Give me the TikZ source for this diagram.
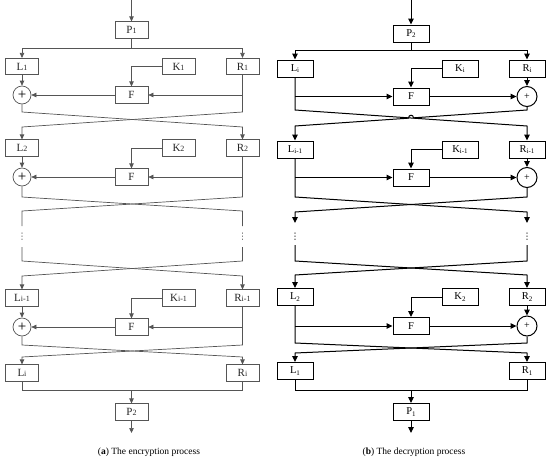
\documentclass[tikz,border=0pt]{standalone}
\usepackage{fontspec}
\setmainfont{Liberation Serif}
\newfontfamily\dvfont{DejaVu Sans}
\usetikzlibrary{arrows.meta}
\definecolor{lgray}{HTML}{555555}
\newcommand\ls[1]{{\fontsize{8}{8}\selectfont #1}}
\newcommand\rs[1]{\raisebox{-0.35ex}{\fontsize{7}{7}\selectfont #1}}
\tikzset{
  lbox/.style={draw=lgray, line width=0.7pt, minimum width=33pt, minimum height=16.5pt, inner sep=0pt, font=\fontsize{11}{11}\selectfont, text=black!85},
  rbox/.style={draw=black, line width=1pt, minimum width=36pt, minimum height=17pt, inner sep=0pt, font=\fontsize{10.5}{10.5}\selectfont},
  lxor/.style={circle, draw=lgray, line width=0.7pt, minimum size=18pt, inner sep=0pt, font=\fontsize{15}{15}\selectfont},
  rxor/.style={circle, draw=black, line width=1pt, minimum size=20pt, inner sep=0pt, font=\fontsize{10}{10}\selectfont},
  lline/.style={draw=lgray, line width=0.7pt},
  larr/.style={lline, -{Triangle[length=5pt,width=4.5pt]}},
  rline/.style={draw=black, line width=1pt},
  rarr/.style={rline, -{Triangle[length=6pt,width=5.5pt]}},
  dotsnode/.style={inner sep=0pt, font=\dvfont\fontsize{9}{9}\selectfont},
  captext/.style={font=\fontsize{9.5}{10}\selectfont}
}
% left round: #1 id, #2 box y, #3 L, #4 K, #5 R, #6 F y
\newcommand\LeftRound[6]{%
  \node[lbox] (L#1) at (22,#2) {#3};
  \node[lbox] (K#1) at (178.5,#2) {#4};
  \node[lbox] (R#1) at (242.5,#2) {#5};
  \node[lxor] (X#1) at (22,#6) {+};
  \node[lbox] (F#1) at (131.5,#6) {F};
  \coordinate (RF#1) at (242.5,#6);
  \draw[larr] (L#1) -- (X#1);
  \draw[larr] (K#1.west) -| (F#1.north);
  \draw[larr] (RF#1) -- (F#1.east);
  \draw[larr] (F#1.west) -- (X#1.east);
}
\newcommand\RightRound[6]{%
  \node[rbox] (L#1) at (295,#2) {#3};
  \node[rbox] (K#1) at (460,#2) {#4};
  \node[rbox] (R#1) at (527,#2) {#5};
  \node[rxor] (X#1) at (527,#6) {+};
  \node[rbox] (F#1) at (411,#6) {F};
  \coordinate (LF#1) at (295,#6);
  \draw[rarr] (R#1) -- (X#1);
  \draw[rarr] (K#1.west) -| (F#1.north);
  \draw[rarr] (LF#1) -- (F#1.west);
  \draw[rarr] (F#1.east) -- (X#1.west);
}
\begin{document}
\begin{tikzpicture}[x=1pt,y=-1pt]
\useasboundingbox (0,0) rectangle (550,459);
% ================= LEFT (a) =================
\coordinate (atop) at (131.5,0);
\node[lbox] (aP1) at (131.5,30) {P\ls{1}};
\draw[larr] (atop) -- (aP1);
\coordinate (as) at (131.5,48);
\LeftRound{a1}{66.5}{L\ls{1}}{K\ls{1}}{R\ls{1}}{95}
\draw[lline] (aP1.south) -- (as);
\draw[larr] (as) -| (La1.north);
\draw[larr] (as) -| (Ra1.north);
\LeftRound{a2}{148}{L\ls{2}}{K\ls{2}}{R\ls{2}}{177}
\coordinate (ac1l) at (22,112); \coordinate (ac1r) at (242.5,112);
\coordinate (ac1L) at (22,127); \coordinate (ac1R) at (242.5,127);
\draw[larr] (Xa1.south) -- (ac1l) -- (ac1R) -- (Ra2.north);
\draw[larr] (Ra1.south) -- (ac1r) -- (ac1L) -- (La2.north);
% round 2 crossing, then dots
\coordinate (ac2l) at (22,197); \coordinate (ac2r) at (242.5,197);
\coordinate (ac2L) at (22,211); \coordinate (ac2R) at (242.5,211);
\coordinate (ad1L) at (22,226); \coordinate (ad1R) at (242.5,226);
\draw[lline] (Xa2.south) -- (ac2l) -- (ac2R) -- (ad1R);
\draw[lline] (Ra2.south) -- (ac2r) -- (ac2L) -- (ad1L);
\node[dotsnode, text=lgray] (adL) at (22,237) {⋮};
\node[dotsnode, text=lgray] (adR) at (242.5,237) {⋮};
\coordinate (ad2L) at (22,247); \coordinate (ad2R) at (242.5,247);
\coordinate (ac3l) at (22,261); \coordinate (ac3r) at (242.5,261);
\coordinate (ac3L) at (22,276); \coordinate (ac3R) at (242.5,276);
\LeftRound{a3}{298}{L\ls{i-1}}{K\ls{i-1}}{R\ls{i-1}}{327}
\draw[larr] (ad2L) -- (ac3l) -- (ac3R) -- (Ra3.north);
\draw[larr] (ad2R) -- (ac3r) -- (ac3L) -- (La3.north);
% final
\node[lbox] (aLi) at (22,373) {L\ls{i}};
\node[lbox] (aRi) at (242.5,373) {R\ls{i}};
\coordinate (ac4l) at (22,345); \coordinate (ac4r) at (242.5,345);
\coordinate (ac4L) at (22,357); \coordinate (ac4R) at (242.5,357);
\draw[larr] (Xa3.south) -- (ac4l) -- (ac4R) -- (aRi.north);
\draw[larr] (Ra3.south) -- (ac4r) -- (ac4L) -- (aLi.north);
\node[lbox] (aP2) at (131.5,412) {P\ls{2}};
\coordinate (abl) at (22,390); \coordinate (abr) at (242.5,390);
\coordinate (abm) at (131.5,390); \coordinate (aend) at (131.5,433);
\draw[lline] (aLi.south) -- (abl) -- (abr) -- (aRi.south);
\draw[larr] (abm) -- (aP2.north);
\draw[larr] (aP2.south) -- (aend);
\node[captext] (capa) at (149,452) {(\textbf{a}) The encryption process};
% ================= RIGHT (b) =================
\coordinate (btop) at (411,0);
\node[rbox] (bP2) at (411,33.5) {P\rs{2}};
\draw[rarr] (btop) -- (bP2);
\coordinate (bs) at (411,50);
\RightRound{b1}{68.5}{L\rs{i}}{K\rs{i}}{R\rs{i}}{96.5}
\draw[rline] (bP2.south) -- (bs);
\draw[rarr] (bs) -| (Lb1.north);
\draw[rarr] (bs) -| (Rb1.north);
\RightRound{b2}{149.5}{L\rs{i-1}}{K\rs{i-1}}{R\rs{i-1}}{177.5}
\coordinate (bc1l) at (295,110); \coordinate (bc1r) at (527,110);
\coordinate (bc1L) at (295,126); \coordinate (bc1R) at (527,126);
\coordinate (bh1) at (413.5,117.83); \coordinate (bh2) at (408.5,118.17);
\draw[rarr] (Lb1.south) -- (bc1l) -- (bc1R) -- (Rb2.north);
\draw[rarr] (Xb1.south) -- (bc1r) -- (bh1) .. controls (413.5,114.3) and (408.5,114.3) .. (bh2) -- (bc1L) -- (Lb2.north);
\coordinate (bc2l) at (295,197); \coordinate (bc2r) at (527,197);
\coordinate (bc2L) at (295,212); \coordinate (bc2R) at (527,212);
\coordinate (bd1L) at (295,223); \coordinate (bd1R) at (527,223);
\draw[rarr] (Lb2.south) -- (bc2l) -- (bc2R) -- (bd1R);
\draw[rarr] (Xb2.south) -- (bc2r) -- (bc2L) -- (bd1L);
\node[dotsnode] (bdL) at (295,237) {⋮};
\node[dotsnode] (bdR) at (527,237) {⋮};
\coordinate (bd2L) at (295,245); \coordinate (bd2R) at (527,245);
\coordinate (bc3l) at (295,261); \coordinate (bc3r) at (527,261);
\coordinate (bc3L) at (295,275); \coordinate (bc3R) at (527,275);
\RightRound{b3}{297}{L\rs{2}}{K\rs{2}}{R\rs{2}}{326}
\draw[rarr] (bd2L) -- (bc3l) -- (bc3R) -- (Rb3.north);
\draw[rarr] (bd2R) -- (bc3r) -- (bc3L) -- (Lb3.north);
\node[rbox] (bL1) at (295,371) {L\rs{1}};
\node[rbox] (bR1) at (527,371) {R\rs{1}};
\coordinate (bc4l) at (295,343); \coordinate (bc4r) at (527,343);
\coordinate (bc4L) at (295,353); \coordinate (bc4R) at (527,353);
\draw[rarr] (Lb3.south) -- (bc4l) -- (bc4R) -- (bR1.north);
\draw[rarr] (Xb3.south) -- (bc4r) -- (bc4L) -- (bL1.north);
\node[rbox] (bP1) at (411,412) {P\rs{1}};
\coordinate (bbl) at (295,390); \coordinate (bbr) at (527,390);
\coordinate (bbm) at (411,390); \coordinate (bend) at (411,433);
\draw[rline] (bL1.south) -- (bbl) -- (bbr) -- (bR1.south);
\draw[rarr] (bbm) -- (bP1.north);
\draw[rarr] (bP1.south) -- (bend);
\node[captext] (capb) at (414,452) {(\textbf{b}) The decryption process};
\end{tikzpicture}
\end{document}
